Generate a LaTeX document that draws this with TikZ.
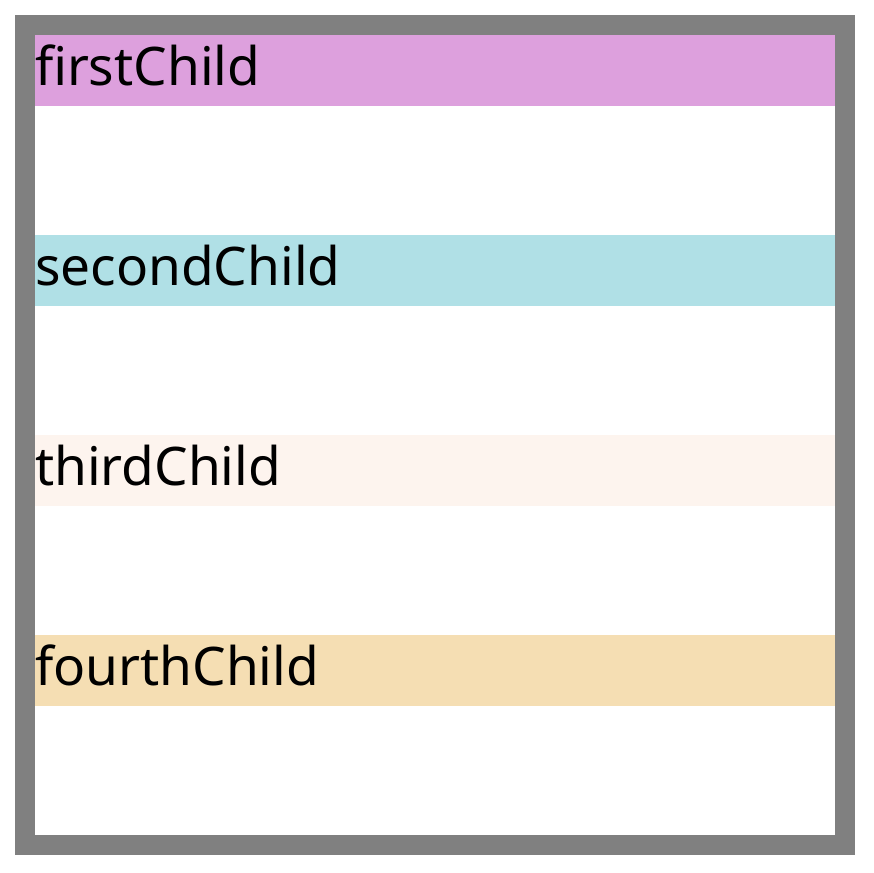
\documentclass[tikz,border=0pt]{standalone}
\usepackage{fontspec}
\setmainfont{Noto Sans}
\definecolor{borderGray}{HTML}{808080}
\definecolor{cPlum}{HTML}{DDA0DD}
\definecolor{cPowder}{HTML}{B0E0E6}
\definecolor{cSeashell}{HTML}{FDF4EE}
\definecolor{cWheat}{HTML}{F5DEB3}
\tikzset{
  childbar/.style={anchor=north west, inner sep=0pt, outer sep=0pt,
    text width=800pt, text height=50pt, text depth=21pt, align=left,
    font=\fontsize{53.2pt}{60pt}\selectfont, fill=#1}
}
\begin{document}
\begin{tikzpicture}[x=1pt,y=-1pt]
\useasboundingbox (0,0) rectangle (874,872);
\fill[white] (0,0) rectangle (874,872);
\node[draw=borderGray, line width=20pt, fill=white, inner sep=0pt, outer sep=0pt,
  minimum width=820pt, minimum height=820pt, anchor=north west] (frame) at (25,25) {};
\node[childbar=cPlum] (first) at (35,35) {firstChild};
\node[childbar=cPowder] (second) at (35,235) {secondChild};
\node[childbar=cSeashell] (third) at (35,435) {thirdChild};
\node[childbar=cWheat] (fourth) at (35,635) {fourthChild};
\end{tikzpicture}
\end{document}
